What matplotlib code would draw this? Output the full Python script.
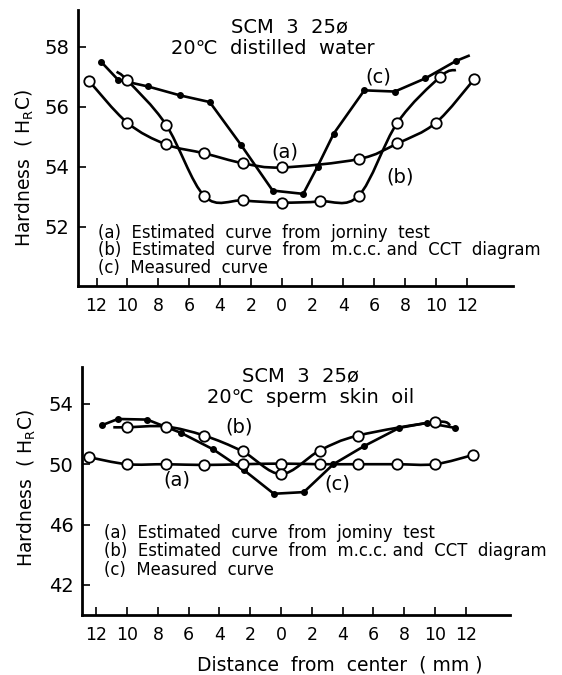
"""
Hardness distribution of SCM 3 (25 mm dia.) quenched in two media.
"""
# Library import ------------------------------------------

import numpy as np
import matplotlib.pyplot as plt
from matplotlib.path import Path
from matplotlib.patches import PathPatch

plt.rcParams['font.family'] = ['DejaVu Sans']

# Data: distilled water (top) -----------------------------

w_a_x = [-12.5, -10, -7.5, -5, -2.5, 0, 5, 7.5, 10, 12.5]
w_a_y = [56.87, 55.47, 54.75, 54.45, 54.12, 53.98, 54.26, 54.78, 55.47, 56.93]

w_b_x = [-10.7, -10, -7.5, -5, -2.5, 0, 2.5, 5, 7.5, 10.3, 11.3]
w_b_y = [57.17, 56.88, 55.41, 53.02, 52.88, 52.81, 52.85, 53.04, 55.47, 57.01, 57.23]

w_c_x = [-11.7, -10.6, -8.67, -6.57, -4.66, -2.63, -0.58, 1.4, 2.33, 3.38, 5.36, 7.34, 9.32, 11.31, 12.12]
w_c_y = [57.5, 56.9, 56.68, 56.38, 56.16, 54.73, 53.21, 53.1, 54.01, 55.11, 56.55, 56.51, 56.95, 57.53, 57.7]

# Data: sperm skin oil (bottom) ---------------------------

o_a_x = [-12.5, -10, -7.5, -5, -2.5, 0, 2.5, 5, 7.5, 10, 12.5]
o_a_y = [50.47, 50.0, 50.0, 49.95, 50.0, 50.04, 50.0, 50.0, 50.0, 50.0, 50.62]

o_b_x = [-10.9, -10, -7.5, -5, -2.5, 0, 2.5, 5, 10, 11.0]
o_b_y = [52.45, 52.45, 52.5, 51.9, 50.85, 49.35, 50.9, 51.9, 52.8, 52.57]

o_c_x = [-11.6, -10.6, -8.7, -6.5, -4.4, -2.4, -0.47, 1.48, 3.4, 5.39, 7.68, 9.48, 11.3]
o_c_y = [52.6, 53.0, 52.96, 52.08, 50.98, 49.6, 48.04, 48.15, 50.0, 51.2, 52.41, 52.74, 52.41]

x_ticks = [-12, -10, -8, -6, -4, -2, 0, 2, 4, 6, 8, 10, 12]
x_labels = ['12', '10', '8', '6', '4', '2', '0', '2', '4', '6', '8', '10', '12']

legend_lines = ['(a)  Estimated  curve  from  jorniny  test',
                '(b)  Estimated  curve  from  m.c.c. and  CCT  diagram',
                '(c)  Measured  curve']
legend_lines_oil = ['(a)  Estimated  curve  from  jominy  test',
                    '(b)  Estimated  curve  from  m.c.c. and  CCT  diagram',
                    '(c)  Measured  curve']

# Helpers -------------------------------------------------

def smooth(ax, x, y, lw=1.9):
    # Catmull-Rom curve through the points, drawn as cubic bezier path
    p = np.column_stack([x, y]).astype(float)
    n = len(p)
    verts = [p[0]]
    codes = [Path.MOVETO]
    for i in range(n - 1):
        p0 = p[i - 1] if i > 0 else p[i]
        p3 = p[i + 2] if i + 2 < n else p[i + 1]
        c1 = p[i] + (p[i + 1] - p0) / 6
        c2 = p[i + 1] - (p3 - p[i]) / 6
        verts += [c1, c2, p[i + 1]]
        codes += [Path.CURVE4] * 3
    ax.add_patch(PathPatch(Path(verts, codes), fill=False, lw=lw, color='black'))


def open_marks(ax, x, y):
    ax.plot(x, y, 'o', ms=7.5, mfc='white', mec='black', mew=1.3, ls='none', zorder=5)


def setup(ax, xlim, ylim, yticks):
    ax.set_xlim(xlim)
    ax.set_ylim(ylim)
    ax.set_xticks(x_ticks)
    ax.set_xticklabels(x_labels, fontsize=12.5)
    ax.set_yticks(yticks)
    ax.tick_params(axis='y', direction='in', length=6, width=1.2, pad=6, labelsize=14)
    ax.tick_params(axis='x', direction='in', length=6, width=1.2, pad=8)
    for s in ['top', 'right']:
        ax.spines[s].set_visible(False)
    for s in ['left', 'bottom']:
        ax.spines[s].set_linewidth(2)


fig = plt.figure(figsize=(5.62, 6.75), dpi=100)

# Top panel: distilled water ==============================

ax1 = fig.add_axes([0.1388, 0.5763, 0.774, 0.409])
setup(ax1, (-13.2, 15.0), (50.03, 59.23), [52, 54, 56, 58])

smooth(ax1, w_a_x, w_a_y)
open_marks(ax1, w_a_x, w_a_y)
smooth(ax1, w_b_x, w_b_y)
open_marks(ax1, w_b_x[1:-1], w_b_y[1:-1])
ax1.plot(w_c_x, w_c_y, '-o', color='black', lw=1.9, ms=4, markevery=list(range(len(w_c_x) - 1)))

ax1.text(0.23, 54.5, '(a)', fontsize=14, ha='center', va='center')
ax1.text(7.7, 53.65, '(b)', fontsize=14, ha='center', va='center')
ax1.text(6.3, 56.98, '(c)', fontsize=14, ha='center', va='center')
ax1.text(0.54, 58.68, 'SCM  3  25ø', fontsize=14, ha='center', va='center')
ax1.text(-0.56, 57.95, '20℃  distilled  water', fontsize=14, ha='center', va='center')
for i, t in enumerate(legend_lines):
    ax1.text(-11.9, [51.78, 51.23, 50.62][i], t, fontsize=11.9, ha='left', va='center', clip_on=False)

fig.text(25 / 562, 1 - 168 / 675, 'Hardness  ( H$\\mathregular{_R}$C)', rotation=90,
         fontsize=13.5, ha='center', va='center')

# Bottom panel: sperm skin oil ============================

ax2 = fig.add_axes([0.1454, 0.0889, 0.762, 0.3679])
setup(ax2, (-12.95, 14.87), (40.0, 56.47), [42, 46, 50, 54])

smooth(ax2, o_a_x, o_a_y)
open_marks(ax2, o_a_x, o_a_y)
smooth(ax2, o_b_x, o_b_y)
open_marks(ax2, o_b_x[1:-1], o_b_y[1:-1])
ax2.plot(o_c_x, o_c_y, '-o', color='black', lw=1.9, ms=4)

ax2.text(-2.7, 52.45, '(b)', fontsize=14, ha='center', va='center')
ax2.text(-6.75, 48.92, '(a)', fontsize=14, ha='center', va='center')
ax2.text(3.63, 48.7, '(c)', fontsize=14, ha='center', va='center')
ax2.text(1.29, 55.88, 'SCM  3  25ø', fontsize=14, ha='center', va='center')
ax2.text(1.93, 54.44, '20℃  sperm  skin  oil', fontsize=14, ha='center', va='center')
for i, t in enumerate(legend_lines_oil):
    ax2.text(-11.5, [45.46, 44.22, 42.96][i], t, fontsize=11.9, ha='left', va='center', clip_on=False)

fig.text(27 / 562, 1 - 488 / 675, 'Hardness  ( H$\\mathregular{_R}$C)', rotation=90,
         fontsize=13.5, ha='center', va='center')
fig.text(340 / 562, 1 - 665 / 675, 'Distance  from  center  ( mm )', fontsize=13.5,
         ha='center', va='center')

plt.savefig('out.png', dpi=100)
